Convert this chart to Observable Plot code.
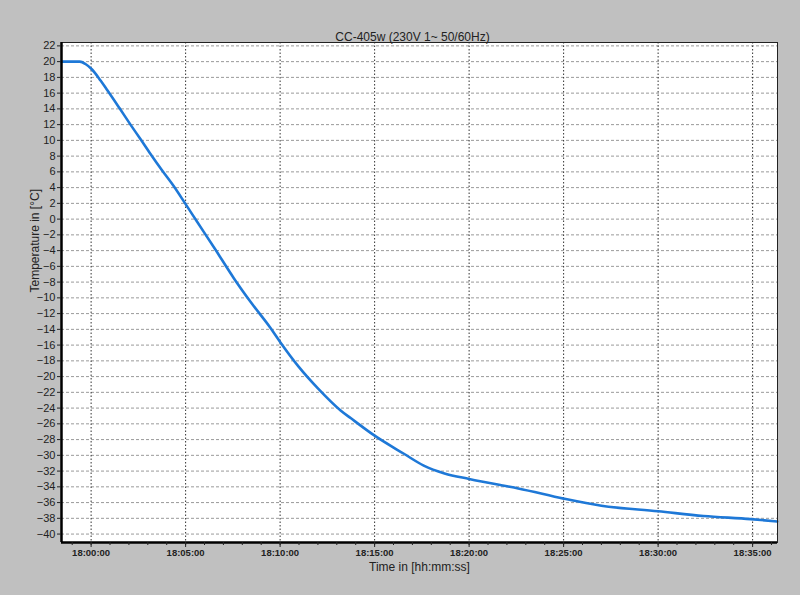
<!DOCTYPE html>
<html>
<head>
<meta charset="utf-8">
<script src="https://cdn.jsdelivr.net/npm/d3@7"></script>
<script src="https://cdn.jsdelivr.net/npm/@observablehq/plot@0.6"></script>
<style>
  html, body { margin: 0; padding: 0; background: #c0c0c0; }
  #chart svg { display: block; }
</style>
</head>
<body>
<div id="chart"></div>
<script>
// ---- data ----
const times = ["17:58:26","17:59:00","17:59:24","17:59:42","18:00:03","18:00:30","18:00:51","18:01:30","18:02:05","18:02:36","18:03:08","18:03:45","18:04:22","18:05:00","18:05:36","18:06:35","18:07:33","18:08:26","18:09:29","18:10:00","18:11:00","18:12:00","18:13:12","18:13:45","18:15:00","18:16:33","18:17:36","18:18:42","18:20:00","18:21:42","18:22:36","18:25:00","18:27:00","18:30:00","18:32:24","18:34:54","18:36:18"];
const temps = [20.0,20.0,20.0,19.7,19.0,17.6,16.4,14.1,12.0,10.2,8.3,6.2,4.2,1.9,-0.3,-3.9,-7.5,-10.5,-13.8,-15.6,-18.8,-21.5,-24.3,-25.3,-27.5,-29.8,-31.3,-32.3,-33.0,-33.8,-34.2,-35.5,-36.4,-37.1,-37.7,-38.1,-38.4];
const yTicks = [22,20,18,16,14,12,10,8,6,4,2,0,-2,-4,-6,-8,-10,-12,-14,-16,-18,-20,-22,-24,-26,-28,-30,-32,-34,-36,-38,-40];
const xTickLabels = ["18:00:00","18:05:00","18:10:00","18:15:00","18:20:00","18:25:00","18:30:00","18:35:00"];
const xDomainLabels = ["17:58:26","18:36:19"];
const yDomain = [-41.07, 22.43];
const title = "CC-405w (230V 1~ 50/60Hz)";
const xLabel = "Time in [hh:mm:ss]";
const yLabel = "Temperature in [°C]";

const parse = s => { const [h, m, sec] = s.split(":").map(Number); return new Date(Date.UTC(2000, 0, 1, h, m, sec)); };
const data = times.map((t, i) => ({ t: parse(t), v: temps[i] }));
const xMajor = xTickLabels.map(parse);
const xDomain = xDomainLabels.map(parse);
const xMinor = d3.utcMinute.range(xDomain[0], xDomain[1]);
const fmt = d3.utcFormat("%H:%M:%S");

const chart = Plot.plot({
  width: 800,
  height: 595,
  marginLeft: 61,
  marginRight: 23,
  marginTop: 42,
  marginBottom: 53,
  style: { background: "transparent", fontFamily: "'Liberation Sans', Arial, sans-serif", fontSize: "11px", color: "#222" },
  x: { type: "utc", domain: xDomain },
  y: { domain: yDomain },
  marks: [
    Plot.frame({ fill: "white", stroke: null }),
    Plot.ruleY(yTicks, { stroke: "#9a9a9a", strokeDasharray: "3,2" }),
    Plot.ruleX(xMajor, { stroke: "#333", strokeDasharray: "1.5,2" }),
    Plot.line(data, { x: "t", y: "v", stroke: "#1e78d7", strokeWidth: 2.6, curve: "monotone-x" }),
    Plot.frame({ stroke: "#222" }),
    Plot.ruleX([xDomain[0]], { stroke: "#000", strokeWidth: 2.5 }),
    Plot.ruleY([yDomain[0]], { stroke: "#000", strokeWidth: 2.5 }),
    Plot.axisY({ ticks: yTicks, tickSize: 4, tickPadding: 2, label: null, fontSize: 11 }),
    Plot.axisX({ ticks: xMinor, tickSize: 3, tickFormat: () => "", label: null }),
    Plot.axisX({ ticks: xMajor, tickSize: 5, tickPadding: 2, tickFormat: fmt, label: null, fontSize: 9.5, fontWeight: "bold" }),
    Plot.text([title], { frameAnchor: "top", dy: -10, dx: -7, fontSize: 12, fill: "#222" }),
    Plot.text([xLabel], { frameAnchor: "bottom", dy: 28, fontSize: 12, fill: "#222" }),
    Plot.text([yLabel], { frameAnchor: "left", dx: -26, rotate: -90, fontSize: 12, fill: "#222" })
  ]
});
document.getElementById("chart").appendChild(chart);
</script>
</body>
</html>
